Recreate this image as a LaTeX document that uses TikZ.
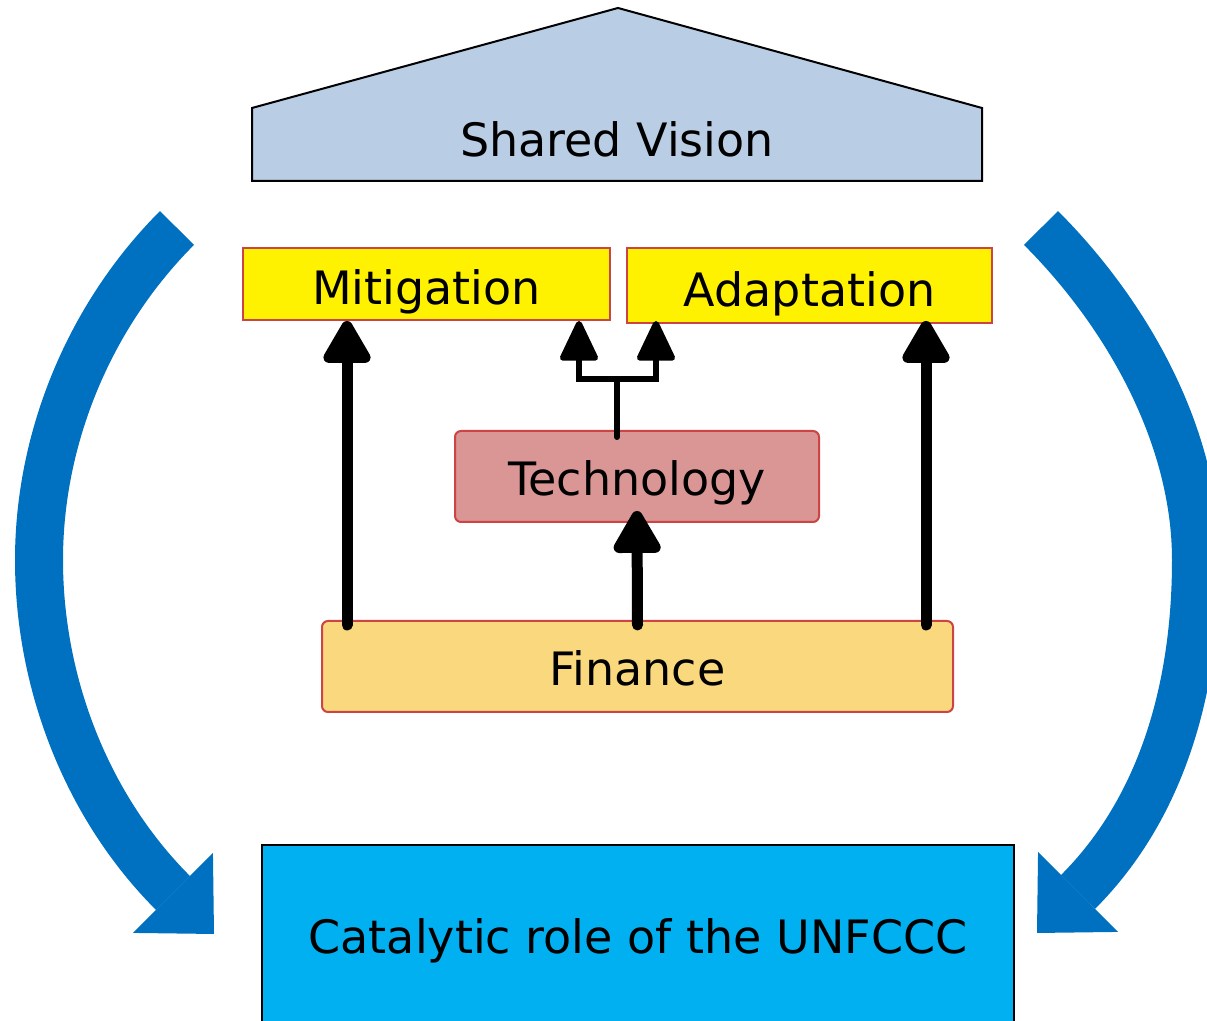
\documentclass[tikz,border=0pt]{standalone}
\usepackage{fontspec}
\setmainfont{DejaVu Sans}
\usetikzlibrary{arrows.meta}

\definecolor{visionblue}{HTML}{B9CDE5}
\definecolor{boxred}{HTML}{CC4444}
\definecolor{techred}{HTML}{D99694}
\definecolor{financeyellow}{HTML}{FAD97E}
\definecolor{unfcccblue}{HTML}{00B0F0}
\definecolor{curveblue}{HTML}{0070C0}

\begin{document}
\begin{tikzpicture}[x=0.5pt, y=0.5pt,
      every node/.style = {inner sep=0pt, align=center, text height=16.8pt, text depth=0pt, font=\fontsize{23}{28}\selectfont},
      goal/.style = {shape=rectangle, draw=boxred, line width=1pt, fill=yellow, text height=20.8pt},
      means/.style = {shape=rectangle, rounded corners=3pt, draw=boxred, line width=1pt, minimum height=45.5pt, text height=19.5pt},
      fatarrow/.style = {line width=5.5pt, line cap=round, -{Triangle[width=26pt, length=24pt, round]}},
      forkarrow/.style = {line width=3pt, -{Triangle[width=20pt, length=22pt, round]}},
      bluearrow/.style = {draw=curveblue, line width=24pt, -{Triangle[width=56.5pt, length=29pt, line width=0pt]}}
      ]
  \useasboundingbox (0,0) rectangle (1207,1021);
  \filldraw[draw=black, fill=visionblue, line width=1pt] (252,840) -- (252,913) -- (618,1013) -- (982,913) -- (982,840) -- cycle;
  \node (vision) at (617,881) {Shared Vision};
  \node[goal, minimum width=183.5pt, minimum height=36pt] (mit) at (426.5,737) {Mitigation};
  \node[goal, minimum width=182.5pt, minimum height=37.5pt] (ada) at (809.5,735.5) {Adaptation};
  \node[means, fill=techred, minimum width=182pt] (tech) at (637,544.5) {Technology};
  \node[means, fill=financeyellow, minimum width=315.5pt] (fin) at (637.5,354.5) {Finance};
  \node[draw, line width=1pt, fill=unfcccblue, minimum width=376pt, minimum height=92pt] (unfccc) at (638,84) {Catalytic role of the UNFCCC};

  \draw[bluearrow] (177,793) .. controls (90,706) and (39,584) .. (39,461) .. controls (39,339) and (86,215) .. (173,128) -- ++(41,-41);
  \draw[bluearrow] (1041,793) .. controls (1128,706) and (1196,584) .. (1196,461) .. controls (1196,339) and (1165,216) .. (1078,129) -- ++(-41,-41);

  \draw[fatarrow] ([shift={(26,-5)}]fin.north west) coordinate (fl) -- (fl |- mit.south);
  \draw[fatarrow] ([shift={(-28,-5)}]fin.north east) coordinate (fr) -- ([yshift=1.5pt]fr |- ada.south);
  \draw[fatarrow] ([yshift=-2.5pt]fin.north) -- ([yshift=6pt]tech.south);

  \draw[line width=3pt, line cap=round] ([shift={(-20,-7)}]tech.north) -- ++(0,58) coordinate (fork);
  \draw[forkarrow] (fork) -| ([shift={(-32,0)}]mit.south east);
  \draw[forkarrow] (fork) -| ([shift={(30,3)}]ada.south west);
\end{tikzpicture}
\end{document}
